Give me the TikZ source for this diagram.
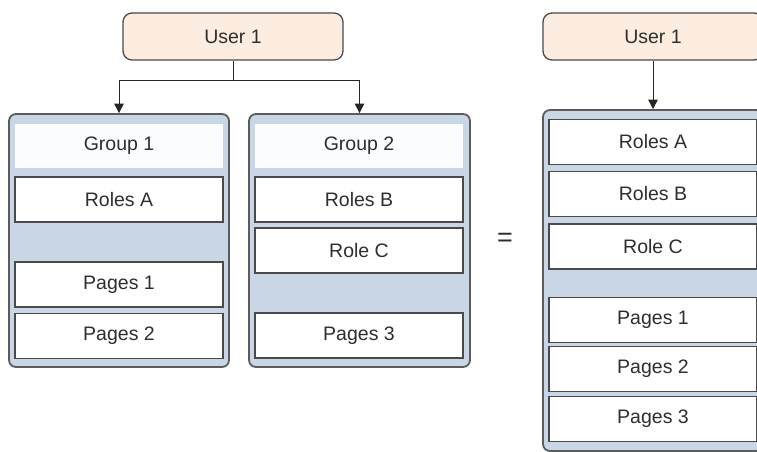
\documentclass[tikz,border=0pt]{standalone}
\usepackage{fontspec}
\setmainfont{Liberation Sans}
\usetikzlibrary{arrows.meta}
\definecolor{userfill}{HTML}{FDEDE1}
\definecolor{contfill}{HTML}{C9D6E6}
\definecolor{headfill}{HTML}{FAFCFE}
\definecolor{edge}{HTML}{4A4A4A}
\definecolor{txt}{HTML}{2E2E2E}
\tikzset{
  lbl/.style={text=txt, font=\fontsize{19.5}{23}\selectfont},
  userbox/.style={lbl, draw=edge, line width=1.3pt, fill=userfill, rounded corners=9pt,
    minimum width=220pt, minimum height=47pt, inner sep=0pt},
  container/.style={draw=edge!90, line width=1.8pt, fill=contfill, rounded corners=7pt,
    inner sep=0pt},
  header/.style={lbl, fill=headfill, minimum width=208pt, minimum height=44pt, inner sep=0pt},
  itembox/.style={lbl, draw=edge, line width=1.3pt, fill=white, minimum width=208pt,
    minimum height=45pt, inner sep=0pt},
  conn/.style={draw=black!85, line width=1pt},
  arr/.style={conn, -{Triangle[width=9.5pt,length=9.5pt]}}
}
\begin{document}
\begin{tikzpicture}[x=1pt,y=-1pt]
\useasboundingbox (0,0) rectangle (757,452);
\clip (0,0) rectangle (757,452);
\fill[white] (0,0) rectangle (757,452);
% left user
\node[userbox] (u1) at (233,36.5) {User 1};
% group 1
\node[container, minimum width=220pt, minimum height=253pt] (g1c) at (119,240.5) {};
\node[header] (g1h) at (119,146) {Group 1};
\node[itembox] (ra1) at (119,199.5) {Roles A};
\node[itembox] (p1a) at (119,284.5) {Pages 1};
\node[itembox] (p2a) at (119,336) {Pages 2};
% group 2
\node[container, minimum width=221pt, minimum height=253pt] (g2c) at (359.5,240.5) {};
\node[header] (g2h) at (359,146) {Group 2};
\node[itembox] (rb2) at (359,199.5) {Roles B};
\node[itembox] (rc2) at (359,250.5) {Role C};
\node[itembox] (p3b) at (359,335.5) {Pages 3};
% connectors
\coordinate (split) at (233,80);
\draw[conn] (u1.south) -- (split);
\draw[arr] (split) -| (g1c.north);
\draw[arr] (split) -| (g2c.north);
% equals
\node[lbl, font=\fontsize{27}{29}\selectfont] (eq) at (505,240) {=};
% right side
\node[userbox] (u2) at (653,36.5) {User 1};
\node[container, minimum width=220pt, minimum height=341pt] (rc) at (653,280.5) {};
\node[itembox] (rra) at (653,142) {Roles A};
\node[itembox] (rrb) at (653,194) {Roles B};
\node[itembox] (rrc) at (653,246.5) {Role C};
\node[itembox] (rp1) at (653,320) {Pages 1};
\node[itembox] (rp2) at (653,369) {Pages 2};
\node[itembox] (rp3) at (653,419) {Pages 3};
\draw[arr] (u2.south) -- (rc.north);
\end{tikzpicture}
\end{document}
